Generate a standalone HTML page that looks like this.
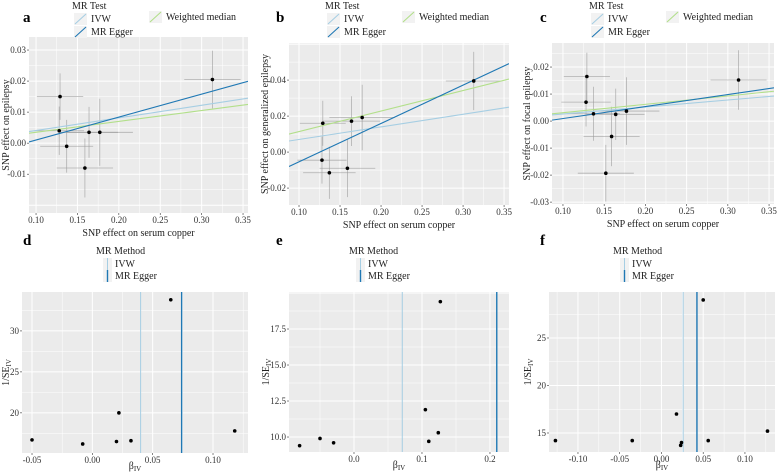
<!DOCTYPE html>
<html><head><meta charset="utf-8"><style>
html,body{margin:0;padding:0;background:#fff;}
svg{display:block;}
svg text{font-family:"Liberation Serif","DejaVu Serif",serif;}
</style></head><body>
<svg id="fig" width="777" height="476" viewBox="0 0 777 476" xmlns="http://www.w3.org/2000/svg" font-family="Liberation Serif, serif"></svg>
<script>
// ---- Panel a data ----
const aX=[0.129,0.128,0.137,0.164,0.177,0.159,0.313];
const aY=[0.015,0.004,-0.001,0.0035,0.0035,-0.008,0.0205];
const aXse=[0.028,0.03,0.032,0.035,0.04,0.034,0.034];
const aYse=[0.0075,0.0078,0.0085,0.0082,0.0108,0.0095,0.0093];
const aSlopes=[0.0407,0.074,0.035];
const aInter=[0,-0.0064,0];
// ---- Panel b data ----
const bX=[0.129,0.128,0.137,0.164,0.177,0.159,0.313];
const bY=[0.016,-0.0045,-0.0115,0.0172,0.0192,-0.009,0.0395];
const bXse=[0.028,0.03,0.032,0.035,0.04,0.034,0.034];
const bYse=[0.0125,0.013,0.0145,0.0138,0.0182,0.016,0.0162];
const bSlopes=[0.07,0.213,0.114];
const bInter=[0,-0.0267,0];
// ---- Panel c data ----
const cX=[0.129,0.128,0.137,0.164,0.177,0.159,0.152,0.313];
const cY=[0.0165,0.007,0.0027,0.0025,0.0037,-0.0057,-0.0193,0.0152];
const cXse=[0.028,0.03,0.032,0.035,0.04,0.034,0.034,0.034];
const cYse=[0.0088,0.009,0.01,0.0095,0.0125,0.011,0.0105,0.011];
const cSlopes=[0.026,0.0444,0.031];
const cInter=[0,-0.0035,0];
// ---- Funnel d ----
const dBeta=[-0.05,-0.008,0.020,0.022,0.032,0.065,0.118];
const dInvSe=[16.7,16.2,16.5,20,16.6,33.8,17.8];
const dLines=[0.040,0.074];
// ---- Funnel e ----
const eBeta=[-0.08,-0.05,-0.03,0.105,0.11,0.124,0.127];
const eInvSe=[9.4,9.9,9.6,11.9,9.7,10.3,19.4];
const eLines=[0.071,0.21];
// ---- Funnel f ----
const fBeta=[-0.127,-0.035,0.018,0.023,0.024,0.05,0.056,0.127];
const fInvSe=[14.2,14.2,17,13.7,14.0,29,14.2,15.2];
const fLines=[0.026,0.0425];
// ---- tick labels ----
const xTicksScatter=[0.10,0.15,0.20,0.25,0.30,0.35];
const aYTicks=[-0.01,0.00,0.01,0.02,0.03];
const bYTicks=[-0.02,0.00,0.02,0.04];
const cYTicks=[-0.03,-0.02,-0.01,0.00,0.01,0.02];
const dXTicks=[-0.05,0.00,0.05,0.10];
const dYTicks=[20,25,30];
const eXTicks=[0.0,0.1,0.2];
const eYTicks=[10.0,12.5,15.0,17.5];
const fXTicks=[-0.10,-0.05,0.00,0.05,0.10];
const fYTicks=[15,20,25];

const NS="http://www.w3.org/2000/svg";
const svg=document.getElementById('fig');
const FONT='"Liberation Serif", "DejaVu Serif", serif';
function mk(tag,attrs,parent){const e=document.createElementNS(NS,tag);for(const k in attrs)e.setAttribute(k,attrs[k]);if(tag==='text')e.setAttribute('style','font-family:'+FONT);(parent||svg).appendChild(e);return e;}
function txt(s,attrs,parent){const e=mk('text',attrs,parent);e.textContent=s;return e;}

const lineCols=['#a6cee3','#1f78b4','#b2df8a'];

function panelFrame(g,P,xt,yt,xfmt,yfmt){
  const sx=v=>P.l+(v-P.x0)/(P.x1-P.x0)*(P.r-P.l);
  const sy=v=>P.b-(v-P.y0)/(P.y1-P.y0)*(P.b-P.t);
  const bg=mk('rect',{x:P.l,y:P.t,width:P.r-P.l,height:P.b-P.t,fill:'#ebebeb'},g);
  
  
  const dx=xt[1]-xt[0], dy=yt[1]-yt[0];
  const grid=mk('g',{},g);
  
  
  for(let v=xt[0]-dx*3;v<=xt[xt.length-1]+dx*3;v+=dx/2){const x=sx(v);if(x<P.l||x>P.r)continue;
    const major=Math.abs(Math.round((v-xt[0])/dx)*dx-(v-xt[0]))<1e-9;
    mk('line',{x1:x,x2:x,y1:P.t,y2:P.b,stroke:'#fff','stroke-width':major?1:0.5},grid);}
  for(let v=yt[0]-dy*3;v<=yt[yt.length-1]+dy*3;v+=dy/2){const y=sy(v);if(y<P.t||y>P.b)continue;
    const major=Math.abs(Math.round((v-yt[0])/dy)*dy-(v-yt[0]))<1e-9;
    mk('line',{x1:P.l,x2:P.r,y1:y,y2:y,stroke:'#fff','stroke-width':major?1:0.5},grid);}
  xt.forEach(v=>{const x=sx(v);mk('line',{x1:x,x2:x,y1:P.b,y2:P.b+2,stroke:'#333','stroke-width':0.6},g);
    const t=txt(xfmt(v),{x:x,y:P.b+10,'font-size':9,'text-anchor':'middle',fill:'#333'},g);
    });
  yt.forEach(v=>{const y=sy(v);mk('line',{x1:P.l-2,x2:P.l,y1:y,y2:y,stroke:'#333','stroke-width':0.6},g);
    const t=txt(yfmt(v),{x:P.l-3,y:y+3,'font-size':9,'text-anchor':'end',fill:'#333'},g);
    });
  return {sx,sy};
}

function scatterPanel(id,label,P,X,Y,Xse,Yse,slopes,inter,yt,ytitle,lx,yx){
  const g=mk('g',{});
  
  
  const {sx,sy}=panelFrame(g,P,xTicksScatter,yt,v=>v.toFixed(2),v=>v.toFixed(2));
  const cp=mk('clipPath',{id:'clip'+id},g);mk('rect',{x:P.l,y:P.t,width:P.r-P.l,height:P.b-P.t},cp);
  const inner=mk('g',{'clip-path':'url(#clip'+id+')'},g);
  X.forEach((x,i)=>{
    const eb=mk('g',{},inner);
    
    
    mk('line',{x1:sx(x-Xse[i]),x2:sx(x+Xse[i]),y1:sy(Y[i]),y2:sy(Y[i]),stroke:'#999','stroke-width':0.8,'stroke-opacity':0.7},eb);
    mk('line',{x1:sx(x),x2:sx(x),y1:sy(Y[i]-Yse[i]),y2:sy(Y[i]+Yse[i]),stroke:'#999','stroke-width':0.8,'stroke-opacity':0.7},eb);
  });
  const order=[0,2,1];
  order.forEach(k=>{
    const l=mk('line',{x1:sx(P.x0),x2:sx(P.x1),y1:sy(inter[k]+slopes[k]*P.x0),y2:sy(inter[k]+slopes[k]*P.x1),stroke:lineCols[k],'stroke-width':1.1},inner);
    
    
  });
  X.forEach((x,i)=>{
    const c=mk('circle',{cx:sx(x),cy:sy(Y[i]),r:1.8,fill:'#000'},inner);
    
    
  });
  const xt=txt('SNP effect on serum copper',{x:(P.l+P.r)/2,y:P.b+23,'font-size':10,'text-anchor':'middle',fill:'#222'},g);
  
  const ym=(P.t+P.b)/2;
  const yT=txt(ytitle,{x:yx,y:ym,'font-size':10,'text-anchor':'middle',fill:'#222',transform:`rotate(-90 ${yx} ${ym})`},g);
  
  const pl=txt(label,{x:lx-2,y:22,'font-size':15,'font-weight':'bold',fill:'#000'},g);
  
  const lg=mk('g',{},g);
  
  
  const L=lx+47;
  txt('MR Test',{x:L,y:9,'font-size':10,fill:'#222'},lg);
  const keys=[[L+2,13,0,'IVW'],[L+2,26,1,'MR Egger'],[L+77,11,2,'Weighted median']];
  keys.forEach(([kx,ky,k,name])=>{
    const e=mk('g',{},lg);
    
    
    mk('rect',{x:kx,y:ky,width:13,height:12,fill:'#f2f2f2'},e);
    mk('line',{x1:kx+1,y1:ky+11,x2:kx+12,y2:ky+1,stroke:lineCols[k],'stroke-width':1.1},e);
    txt(name,{x:kx+17,y:ky+9,'font-size':10,fill:'#222'},e);
  });
}

function funnelPanel(id,label,P,B,I,lines,xt,yt,xf,yf,lx,yx){
  const g=mk('g',{});
  
  
  const {sx,sy}=panelFrame(g,P,xt,yt,xf,yf);
  const cols=['#a6cee3','#1f78b4'];
  lines.forEach((v,k)=>{
    const l=mk('line',{x1:sx(v),x2:sx(v),y1:P.t,y2:P.b,stroke:cols[k],'stroke-width':k?1.4:1},g);
    
    
  });
  B.forEach((b,i)=>{
    const c=mk('circle',{cx:sx(b),cy:sy(I[i]),r:1.8,fill:'#000'},g);
    
    
  });
  const xT=mk('text',{x:(P.l+P.r)/2,y:P.b+16,'font-size':10,'text-anchor':'middle',fill:'#222'},g);
  xT.innerHTML='β<tspan font-size="7" dy="2">IV</tspan>';
  
  const ym=(P.t+P.b)/2;
  const yT=mk('text',{x:yx,y:ym,'font-size':10,'text-anchor':'middle',fill:'#222',transform:`rotate(-90 ${yx} ${ym})`},g);
  yT.innerHTML='1/SE<tspan font-size="7" dy="2">IV</tspan>';
  
  const pl=txt(label,{x:lx-2,y:245,'font-size':15,'font-weight':'bold',fill:'#000'},g);
  
  const lg=mk('g',{},g);
  
  
  const L=lx+71;
  txt('MR Method',{x:L,y:254,'font-size':10,fill:'#222'},lg);
  [['IVW',258],['MR Egger',270]].forEach(([n,y],k)=>{
    const e=mk('g',{},lg);
    
    
    mk('rect',{x:L+7,y:y,width:9,height:12,fill:'#f2f2f2'},e);
    mk('line',{x1:L+11.5,x2:L+11.5,y1:y,y2:y+12,stroke:cols[k],'stroke-width':k?1.4:1},e);
    txt(n,{x:L+19,y:y+9,'font-size':10,fill:'#222'},e);
  });
}

scatterPanel('a','a',{l:29,r:248,t:37,b:213,x0:0.0915,x1:0.356,y0:-0.0225,y1:0.0342},aX,aY,aXse,aYse,aSlopes,aInter,aYTicks,'SNP effect on epilepsy',25,9);
scatterPanel('b','b',{l:289,r:509,t:43,b:205,x0:0.0878,x1:0.356,y0:-0.0294,y1:0.0606},bX,bY,bXse,bYse,bSlopes,bInter,bYTicks,'SNP effect on generalized epilepsy',278,268);
scatterPanel('c','c',{l:552,r:774,t:43,b:204,x0:0.0867,x1:0.356,y0:-0.0307,y1:0.0289},cX,cY,cXse,cYse,cSlopes,cInter,cYTicks,'SNP effect on focal epilepsy',542,530);

funnelPanel('d','d',{l:22,r:248,t:292,b:453,x0:-0.0583,x1:0.129,y0:15.1,y1:34.75},dBeta,dInvSe,dLines,dXTicks,dYTicks,v=>v.toFixed(2),v=>String(v),25,9);
funnelPanel('e','e',{l:289,r:509,t:292,b:452,x0:-0.0956,x1:0.228,y0:8.96,y1:20.07},eBeta,eInvSe,eLines,eXTicks,eYTicks,v=>v.toFixed(1),v=>v.toFixed(1),278,269);
funnelPanel('f','f',{l:549,r:775,t:292,b:452,x0:-0.1347,x1:0.136,y0:13.0,y1:29.84},fBeta,fInvSe,fLines,fXTicks,fYTicks,v=>v.toFixed(2),v=>String(v),542,531);
</script>
</body></html>
